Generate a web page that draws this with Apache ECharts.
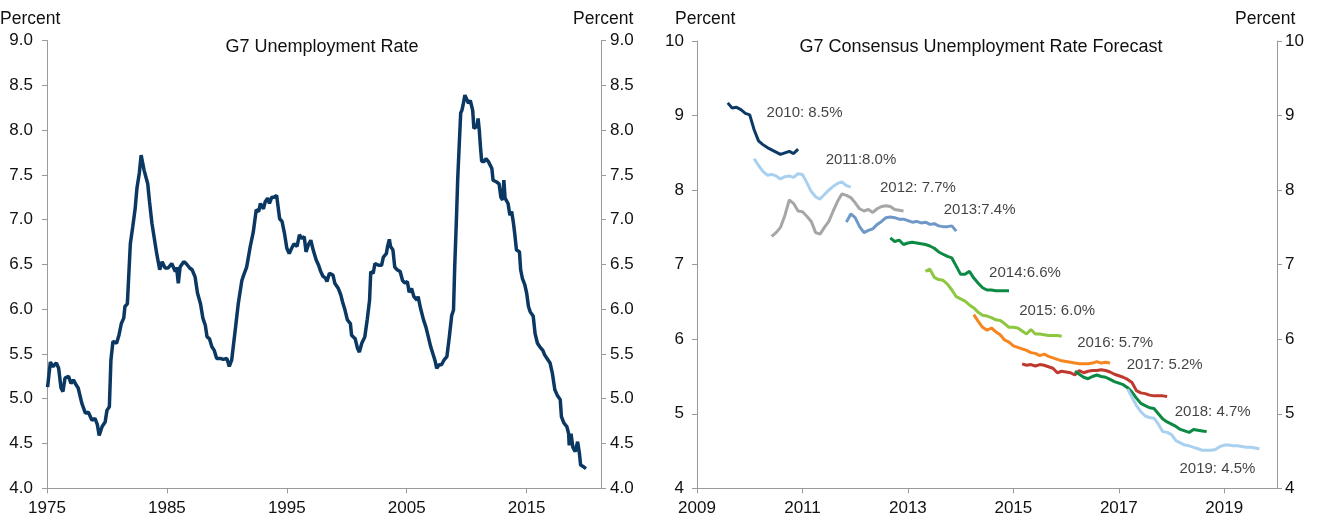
<!DOCTYPE html>
<html>
<head>
<meta charset="utf-8">
<script src="https://cdn.jsdelivr.net/npm/echarts@6/dist/echarts.min.js"></script>
<style>
html,body{margin:0;padding:0;background:#fff;}
#chart{width:1318px;height:520px;}
</style>
</head>
<body>
<div id="chart"></div>
<script>
// ---------- Left panel: G7 unemployment rate (percent) ----------
const g7Years = [
1975.05,1975.28,1975.5,1975.78,1975.97,1976.17,1976.33,1976.5,1976.8,1977.0,1977.2,1977.45,1977.6,1977.9,
1978.2,1978.45,1978.75,1979.0,1979.2,1979.35,1979.6,1979.85,1980.0,1980.2,1980.33,1980.5,1980.8,1981.0,
1981.2,1981.4,1981.5,1981.7,1981.95,1982.15,1982.35,1982.5,1982.7,1982.85,1983.0,1983.1,1983.4,1983.55,
1983.75,1983.95,1984.15,1984.4,1984.6,1984.85,1985.1,1985.4,1985.7,1985.8,1985.95,1986.1,1986.4,1986.6,
1986.9,1987.1,1987.35,1987.55,1987.8,1988.0,1988.2,1988.35,1988.55,1988.75,1988.95,1989.15,1989.45,1989.7,
1990.0,1990.2,1990.4,1990.7,1990.95,1991.25,1991.4,1991.65,1991.95,1992.2,1992.45,1992.65,1992.8,1993.05,
1993.2,1993.4,1993.55,1993.75,1993.95,1994.15,1994.4,1994.6,1994.8,1995.0,1995.2,1995.4,1995.6,1995.85,
1996.05,1996.25,1996.45,1996.6,1996.8,1997.0,1997.2,1997.45,1997.65,1997.8,1998.0,1998.2,1998.35,1998.55,
1998.85,1999.0,1999.3,1999.5,1999.65,1999.85,2000.05,2000.3,2000.4,2000.7,2000.9,2001.05,2001.25,2001.5,
2001.7,2001.9,2002.0,2002.2,2002.35,2002.65,2002.9,2003.05,2003.3,2003.4,2003.55,2003.65,2003.85,2004.0,
2004.2,2004.45,2004.65,2004.85,2005.05,2005.2,2005.4,2005.6,2005.85,2005.95,2006.15,2006.4,2006.6,2006.8,
2007.0,2007.15,2007.35,2007.5,2007.7,2007.9,2008.1,2008.35,2008.55,2008.75,2008.9,2009.0,2009.15,2009.25,
2009.4,2009.5,2009.6,2009.7,2009.85,2010.0,2010.15,2010.3,2010.4,2010.5,2010.6,2010.7,2010.85,2010.95,
2011.05,2011.15,2011.25,2011.45,2011.6,2011.8,2011.95,2012.1,2012.2,2012.5,2012.7,2012.85,2013.0,2013.1,
2013.2,2013.35,2013.45,2013.6,2013.75,2013.9,2014.0,2014.15,2014.4,2014.5,2014.65,2014.85,2015.0,2015.15,
2015.3,2015.4,2015.55,2015.7,2015.9,2016.1,2016.35,2016.5,2016.7,2016.95,2017.15,2017.35,2017.55,2017.8,
2017.9,2018.1,2018.35,2018.5,2018.55,2018.7,2018.85,2019.05,2019.25,2019.4,2019.5,2019.65,2019.75,2019.95
];
const g7Rates = [
5.13,5.41,5.36,5.40,5.34,5.12,5.08,5.23,5.25,5.17,5.21,5.15,5.12,4.95,
4.84,4.85,4.76,4.78,4.71,4.59,4.69,4.74,4.87,4.91,5.43,5.64,5.62,5.71,
5.84,5.90,6.03,6.06,6.73,6.92,7.12,7.35,7.52,7.72,7.70,7.55,7.40,7.20,
6.96,6.79,6.62,6.44,6.53,6.46,6.46,6.51,6.42,6.47,6.29,6.47,6.53,6.51,
6.46,6.44,6.36,6.18,6.06,5.90,5.82,5.69,5.67,5.58,5.54,5.45,5.45,5.44,
5.45,5.36,5.43,5.77,6.06,6.32,6.38,6.47,6.70,6.86,7.11,7.09,7.18,7.12,
7.20,7.24,7.18,7.25,7.25,7.27,7.01,6.98,6.85,6.68,6.62,6.68,6.73,6.70,
6.83,6.79,6.81,6.64,6.72,6.77,6.66,6.55,6.49,6.43,6.37,6.35,6.31,6.40,
6.38,6.29,6.23,6.16,6.08,5.99,5.88,5.84,5.71,5.67,5.56,5.52,5.62,5.69,
5.88,6.10,6.42,6.40,6.51,6.49,6.49,6.58,6.62,6.70,6.78,6.70,6.66,6.47,
6.44,6.42,6.32,6.29,6.31,6.19,6.23,6.14,6.10,6.14,6.01,5.88,5.80,5.69,
5.58,5.58,5.43,5.34,5.38,5.38,5.43,5.47,5.69,5.93,5.99,6.47,7.03,7.45,
7.90,8.19,8.22,8.28,8.39,8.41,8.30,8.33,8.31,8.22,8.02,8.00,8.04,8.13,
8.00,7.81,7.65,7.65,7.68,7.65,7.66,7.57,7.44,7.42,7.40,7.25,7.22,7.44,
7.24,7.24,7.18,7.05,7.09,6.96,6.85,6.66,6.64,6.44,6.34,6.27,6.18,6.03,
5.97,5.99,5.92,5.73,5.62,5.58,5.54,5.49,5.45,5.40,5.28,5.10,5.04,4.99,
4.80,4.73,4.69,4.61,4.48,4.61,4.46,4.41,4.52,4.39,4.26,4.28,4.24,4.22
];
const leftYTicks = [4.0, 9.0, 0.5];   // min, max, step
const leftXStart = 1975;

// ---------- Right panel: consensus forecasts (percent) ----------
const fcNames = ['2010','2011','2012','2013','2014','2015','2016','2017','2018','2019'];
const fcLabels = ['2010: 8.5%','2011:8.0%','2012: 7.7%','2013:7.4%','2014:6.6%','2015: 6.0%','2016: 5.7%','2017: 5.2%','2018: 4.7%','2019: 4.5%'];
// first forecast month of each series [year, month]
const fcStart = [[2009,8],[2010,2],[2010,6],[2011,11],[2012,9],[2013,5],[2014,4],[2015,3],[2016,3],[2017,3]];
const fc2010 = [9.17,9.10,9.11,9.08,9.03,9.01,8.81,8.66,8.61,8.57,8.54,8.51,8.48,8.50,8.52,8.49,8.55];
const fc2011 = [8.42,8.33,8.25,8.20,8.21,8.19,8.15,8.18,8.19,8.17,8.22,8.21,8.10,7.98,7.91,7.88,7.94,8.00,8.05,8.09,8.11,8.06,8.04];
const fc2012 = [7.38,7.43,7.50,7.66,7.87,7.82,7.72,7.71,7.65,7.58,7.43,7.41,7.50,7.58,7.72,7.85,7.95,7.93,7.90,7.83,7.75,7.72,7.74,7.70,7.75,7.78,7.79,7.78,7.74,7.73,7.72];
const fc2013 = [7.57,7.68,7.63,7.51,7.43,7.46,7.48,7.54,7.58,7.63,7.64,7.63,7.61,7.61,7.59,7.57,7.58,7.56,7.57,7.54,7.55,7.52,7.51,7.51,7.52,7.45];
const fc2014 = [7.36,7.31,7.33,7.27,7.29,7.30,7.29,7.28,7.27,7.25,7.22,7.17,7.14,7.11,7.09,6.98,6.87,6.87,6.91,6.82,6.75,6.69,6.66,6.66,6.65,6.65,6.65,6.65];
const fc2015 = [6.91,6.94,6.83,6.80,6.79,6.74,6.66,6.57,6.54,6.51,6.46,6.42,6.36,6.32,6.31,6.29,6.26,6.25,6.21,6.16,6.16,6.15,6.11,6.07,6.13,6.07,6.07,6.06,6.05,6.05,6.05,6.04];
const fc2016 = [6.33,6.24,6.16,6.12,6.15,6.10,6.06,5.99,5.96,5.91,5.89,5.87,5.85,5.82,5.81,5.78,5.80,5.77,5.75,5.73,5.71,5.70,5.69,5.68,5.67,5.67,5.67,5.68,5.70,5.68,5.69,5.68];
const fc2017 = [5.67,5.65,5.66,5.64,5.66,5.65,5.63,5.61,5.55,5.57,5.56,5.55,5.52,5.58,5.55,5.57,5.58,5.58,5.59,5.58,5.56,5.53,5.51,5.49,5.46,5.42,5.31,5.28,5.27,5.25,5.24,5.24,5.24,5.23];
const fc2018 = [5.57,5.53,5.49,5.47,5.50,5.52,5.50,5.49,5.46,5.43,5.41,5.39,5.35,5.29,5.21,5.14,5.11,5.08,5.07,5.00,4.93,4.89,4.86,4.83,4.79,4.77,4.75,4.79,4.78,4.77,4.76];
const fc2019 = [5.33,5.22,5.11,5.03,4.97,4.95,4.94,4.86,4.76,4.75,4.72,4.64,4.61,4.58,4.57,4.55,4.53,4.51,4.51,4.51,4.52,4.56,4.58,4.58,4.57,4.57,4.56,4.55,4.55,4.54,4.53];
const fcValues = [fc2010,fc2011,fc2012,fc2013,fc2014,fc2015,fc2016,fc2017,fc2018,fc2019];
const rightXStart = 2009;
const rightXTicks = [0, 11, 2];
const rightYTicks = [4, 10, 1];

// ---------- styling (kept apart from data) ----------
const fcColors = ['#0b3a66','#a9d1ef','#a6a6a6','#6f98c9','#0c8a44','#8dc63f','#f7861f','#c0392f','#0c8a44','#a9d1ef'];
// label anchor (data coords: year, percent) for each forecast annotation
const fcLabelAnchor = [[2010.32,9.04],[2011.44,8.41],[2012.47,8.03],[2013.68,7.73],[2014.54,6.89],[2015.11,6.38],[2016.21,5.95],[2017.15,5.66],[2018.06,5.02],[2018.15,4.26]];

const FONT = 'Liberation Sans, Arial, sans-serif';
const TXT = '#111111';
const AX = '#9a9a9a';
const TICKFS = 17;

function yAxisCfg(grid, pos, t, dec, margin) {
  return {
    type: 'value', gridIndex: grid, position: pos, min: t[0], max: t[1], interval: t[2],
    axisLine: {show: true, lineStyle: {color: AX, width: 1}},
    axisTick: {show: true, length: 5, lineStyle: {color: AX}},
    splitLine: {show: false},
    axisLabel: {color: TXT, fontFamily: FONT, fontSize: TICKFS, margin: margin,
      formatter: v => dec ? v.toFixed(1) : String(v)}
  };
}

const leftData = g7Years.map((y, i) => [y - leftXStart, g7Rates[i]]);

const series = [{
  type: 'line', xAxisIndex: 0, yAxisIndex: 0, data: leftData,
  showSymbol: false, symbol: 'none', lineStyle: {color: '#0b3862', width: 3.5}, z: 3
}];

fcValues.forEach((vals, k) => {
  const s = fcStart[k];
  const x0 = s[0] + (s[1] - 1) / 12 - rightXStart;
  series.push({
    type: 'line', name: fcNames[k], xAxisIndex: 1, yAxisIndex: 2,
    data: vals.map((v, i) => [x0 + i / 12, v]),
    showSymbol: false, symbol: 'none', lineStyle: {color: fcColors[k], width: 3}, z: 3 + k
  });
});

series.push({
  type: 'scatter', xAxisIndex: 1, yAxisIndex: 2, symbolSize: 0, silent: true,
  data: fcLabels.map((t, k) => ({value: [fcLabelAnchor[k][0] - rightXStart, fcLabelAnchor[k][1]], name: t})),
  label: {show: true, position: 'right', distance: 0, formatter: p => p.name,
    color: TXT, fontFamily: FONT, fontSize: 15}
});

const titleStyle = {fontFamily: FONT, fontSize: 18, fontWeight: 'normal', color: TXT};
const pctStyle = {fontFamily: FONT, fontSize: 17.5, fontWeight: 'normal', color: TXT};

const option = {
  animation: false,
  backgroundColor: '#ffffff',
  title: [
    {text: 'G7 Unemployment Rate', left: 322, top: 38, padding: 0, textAlign: 'center', textStyle: titleStyle},
    {text: 'G7 Consensus Unemployment Rate Forecast', left: 981, top: 38, padding: 0, textAlign: 'center', textStyle: titleStyle},
    {text: 'Percent', left: 0, top: 10, padding: 0, textStyle: pctStyle},
    {text: 'Percent', left: 573, top: 10, padding: 0, textStyle: pctStyle},
    {text: 'Percent', left: 675, top: 10, padding: 0, textStyle: pctStyle},
    {text: 'Percent', left: 1235, top: 10, padding: 0, textStyle: pctStyle}
  ],
  grid: [
    {left: 47, right: 717, top: 40.5, bottom: 31.7},
    {left: 697, right: 41, top: 41, bottom: 31.7}
  ],
  xAxis: [
    {type: 'value', gridIndex: 0, min: 0, max: 46.2, interval: 10,
      axisLine: {show: true, lineStyle: {color: AX}},
      axisTick: {show: true, length: 5, lineStyle: {color: AX}},
      splitLine: {show: false},
      axisLabel: {color: TXT, fontFamily: FONT, fontSize: TICKFS, margin: 12, showMaxLabel: false,
        formatter: v => (Math.abs(v % 10) < 1e-6 ? String(leftXStart + v) : '')}},
    {type: 'value', gridIndex: 1, min: rightXTicks[0], max: rightXTicks[1], interval: rightXTicks[2],
      axisLine: {show: true, lineStyle: {color: AX}},
      axisTick: {show: true, length: 5, lineStyle: {color: AX}},
      splitLine: {show: false},
      axisLabel: {color: TXT, fontFamily: FONT, fontSize: TICKFS, margin: 12, showMaxLabel: false,
        formatter: v => (Math.abs(v % 2) < 1e-6 ? String(rightXStart + v) : '')}}
  ],
  yAxis: [
    yAxisCfg(0, 'left', leftYTicks, true, 14),
    yAxisCfg(0, 'right', leftYTicks, true, 9),
    yAxisCfg(1, 'left', rightYTicks, false, 13),
    yAxisCfg(1, 'right', rightYTicks, false, 8)
  ],
  series: series
};

const chart = echarts.init(document.getElementById('chart'), null, {renderer: 'canvas'});
chart.setOption(option);
</script>
</body>
</html>
